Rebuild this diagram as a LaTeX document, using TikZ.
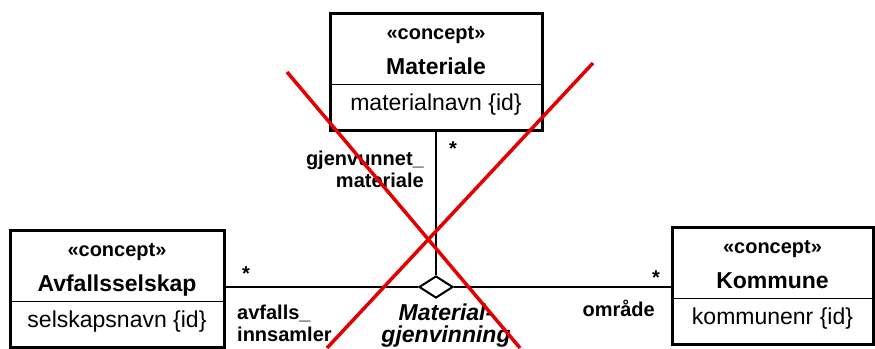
\documentclass[tikz,border=0pt]{standalone}
\usepackage{fontspec}
\setmainfont{Liberation Sans}
\usetikzlibrary{shapes.geometric}
\definecolor{crossred}{RGB}{226,0,0}

\begin{document}
\begin{tikzpicture}[x=1pt,y=-1pt,
		classbox/.style={draw, line width=3pt, minimum height=117pt, inner sep=0pt, anchor=north},
		stereo/.style={anchor=base, inner sep=0pt, font=\fontsize{20}{22}\selectfont\bfseries},
		classname/.style={anchor=base, inner sep=0pt, font=\fontsize{23}{26}\selectfont\bfseries},
		classattr/.style={anchor=base, inner sep=0pt, font=\fontsize{23}{26}\selectfont},
		role/.style={inner sep=0pt, font=\fontsize{20}{22}\selectfont\bfseries},
		assoc/.style={line width=2.5pt},
		aggr/.style={diamond, draw, fill=white, line width=2pt, minimum width=34pt, minimum height=22pt, inner sep=0pt},
		cross/.style={draw=crossred, line width=3.5pt}]
		% Canvas
		\useasboundingbox (0,0) rectangle (875,348);

		% Classes: name/centre x/top y/width/title/attribute
		\foreach \cname/\cx/\cy/\cw/\ctitle/\cattr in {mat/436/12/212/Materiale/materialnavn,
				avf/117/229/214/Avfallsselskap/selskapsnavn,
				kom/772.5/226/201/Kommune/kommunenr} {
			\node[classbox, minimum width=\cw] (\cname) at (\cx,\cy) {};
			\draw[line width=1pt] (\cx-\cw/2,\cy+72) -- (\cx+\cw/2,\cy+72);
			\node[stereo] (\cname-stereo) at (\cx,\cy+27) {«concept»};
			\node[classname] (\cname-title) at (\cx,\cy+62) {\ctitle};
			\node[classattr] (\cname-attr) at (\cx,\cy+98) {\cattr\ \{id\}};
		}

		% Association with diamond
		\node[aggr] (agg) at (436,287) {};
		\draw[assoc] (mat.south) -- (agg.north);
		\draw[assoc] (avf.east |- agg.west) -- (agg.west);
		\draw[assoc] (agg.east) -- (agg.east -| kom.west);

		% Ends
		\node[role, anchor=base] (mat-mult) at (453,155) {*};
		\node[role, align=right, anchor=east] (mat-role) at (424,169) {gjenvunnet\_\\materiale};
		\node[role, anchor=base] (avf-mult) at (246,280) {*};
		\node[role, align=left, anchor=west] (avf-role) at (237,323) {avfalls\_\\innsamler};
		\node[role, anchor=base] (kom-mult) at (656,284) {*};
		\node[role, anchor=base east] (kom-role) at (655,316) {område};
		\node[role, font=\fontsize{23}{22}\selectfont\bfseries\itshape, align=center] (agg-name) at (446,326) {Material-\\gjenvinning};

		% Red cross
		\draw[cross] (287,72) -- (520,348);
		\draw[cross] (593,63) -- (327,348);
	\end{tikzpicture}
\end{document}
